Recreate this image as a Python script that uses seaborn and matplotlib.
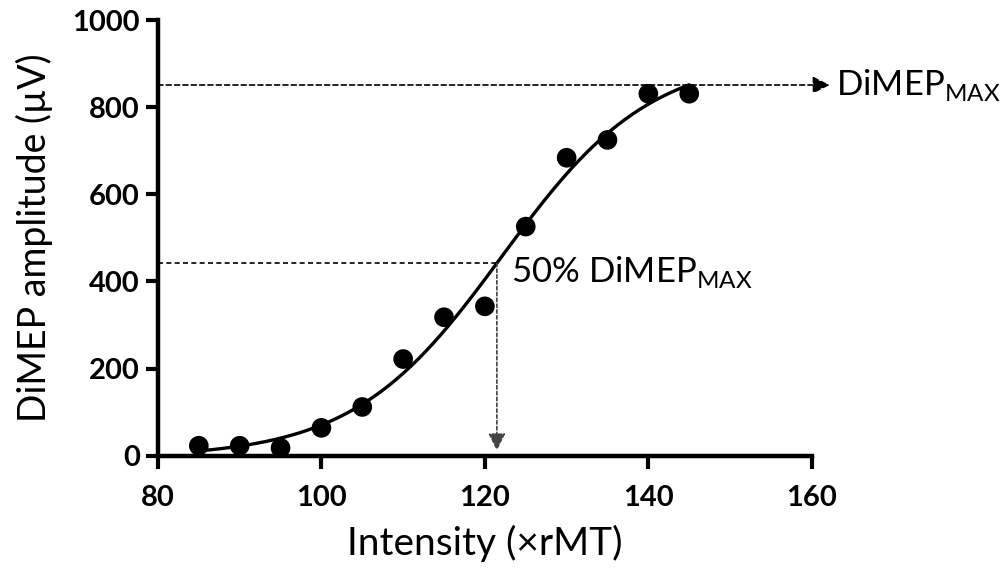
import numpy as np
import pandas as pd
import seaborn as sns
import matplotlib
matplotlib.use("Agg")
import matplotlib.pyplot as plt

# data
intensity = [85, 90, 95, 100, 105, 110, 115, 120, 125, 130, 135, 140, 145]
amplitude = [23, 23, 18, 64, 112, 222, 318, 343, 526, 684, 725, 831, 831]

x_ticks = [80, 100, 120, 140, 160]
y_ticks = [0, 200, 400, 600, 800, 1000]

# guide levels as drawn in the reference
dimep_max = 851
dimep_half = 442

df = pd.DataFrame({"Intensity": intensity, "Amplitude": amplitude})

# Boltzmann fit (grid search on V50/slope, linear solve for bottom/top)
x = np.array(intensity, dtype=float)
y = np.array(amplitude, dtype=float)
best = None
for v50 in np.linspace(110, 135, 251):
    for k in np.linspace(4, 15, 221):
        f = 1 / (1 + np.exp((v50 - x) / k))
        A = np.column_stack([np.ones_like(f), f])
        coef, _, _, _ = np.linalg.lstsq(A, y, rcond=None)
        sse = np.sum((A @ coef - y) ** 2)
        if best is None or sse < best[0]:
            best = (sse, v50, k, coef)
_, v50, k, (bottom, span) = best

xs = np.linspace(85, 145, 200)
ys = bottom + span / (1 + np.exp((v50 - xs) / k))
curve = pd.DataFrame({"Intensity": xs, "Amplitude": ys})
x_half = np.interp(dimep_half, ys, xs)

sns.set_theme(style="ticks")
plt.rcParams["font.family"] = ["Lato", "DejaVu Sans"]
plt.rcParams["text.color"] = "black"
plt.rcParams["axes.labelcolor"] = "black"

fig = plt.figure(figsize=(10.06, 5.74), dpi=100)
ax = fig.add_axes([0.157, 0.206, 0.65, 0.759])

sns.lineplot(data=curve, x="Intensity", y="Amplitude", color="black", lw=2.4, ax=ax)
sns.scatterplot(data=df, x="Intensity", y="Amplitude", color="black", s=200,
                edgecolor="none", ax=ax, zorder=3)

# guide lines
ax.annotate("", xy=(162.2, dimep_max), xytext=(80, dimep_max), annotation_clip=False,
            arrowprops=dict(arrowstyle="-|>", color="black", lw=1.2, ls=(0, (3, 2)),
                            mutation_scale=26, shrinkA=0, shrinkB=0))
ax.text(163.0, dimep_max, "DiMEP$_{\\mathregular{MAX}}$", fontsize=25, va="center",
        ha="left", clip_on=False)
ax.plot([80, x_half], [dimep_half, dimep_half], color="black", lw=1.2, ls=(0, (3, 2)))
ax.annotate("", xy=(x_half, 12), xytext=(x_half, dimep_half),
            arrowprops=dict(arrowstyle="-|>", color="#444444", lw=1.2, ls=(0, (2, 1.5)),
                            mutation_scale=26, shrinkA=0, shrinkB=0))
ax.text(x_half + 1.7, dimep_half - 20, "50% DiMEP$_{\\mathregular{MAX}}$", fontsize=25,
        va="center", ha="left")

ax.set_xlim(80, 160)
ax.set_ylim(0, 1000)
ax.set_xticks(x_ticks)
ax.set_yticks(y_ticks)
ax.set_xlabel("Intensity (×rMT)", fontsize=28, labelpad=10)
ax.set_ylabel("DiMEP amplitude (µV)", fontsize=27, labelpad=14)
for lab in ax.get_xticklabels() + ax.get_yticklabels():
    lab.set_fontweight("bold")
    lab.set_fontsize(21)
ax.tick_params(width=3, length=9, direction="out", colors="black")
ax.tick_params(axis="x", pad=12)
ax.tick_params(axis="y", pad=4)
sns.despine(ax=ax)
for s in ["left", "bottom"]:
    ax.spines[s].set_linewidth(3.2)
    ax.spines[s].set_color("black")

fig.savefig("out.png", dpi=100)
